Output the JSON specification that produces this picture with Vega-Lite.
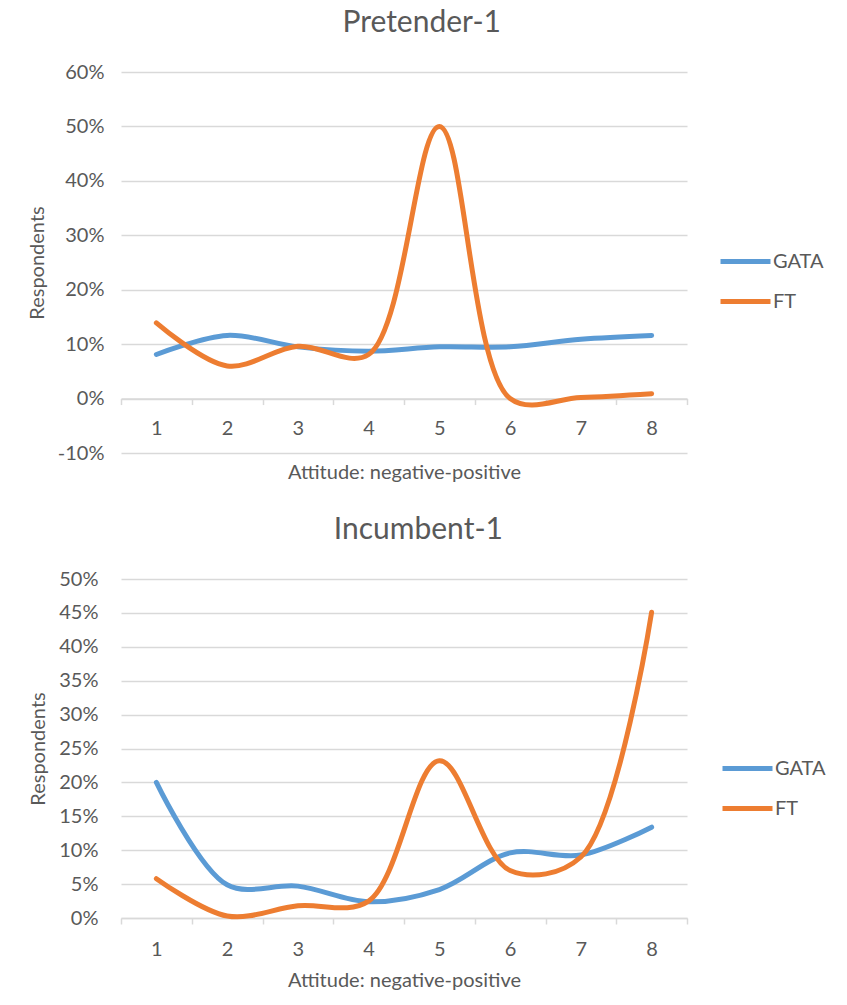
{
  "$schema": "https://vega.github.io/schema/vega-lite/v6.json",
  "background": "white",
  "padding": {"left": 27, "top": 8, "right": 0, "bottom": 0},
  "spacing": 32,
  "columns": 1,
  "resolve": {"legend": {"color": "independent"}},
  "config": {
    "font": "Lato",
    "view": {"stroke": null},
    "legend": {"padding": 0}
  },
  "datasets": {
    "pretender": [
      {"attitude": 1, "series": "GATA", "value": 0.081},
      {"attitude": 2, "series": "GATA", "value": 0.116},
      {"attitude": 3, "series": "GATA", "value": 0.095},
      {"attitude": 4, "series": "GATA", "value": 0.087},
      {"attitude": 5, "series": "GATA", "value": 0.095},
      {"attitude": 6, "series": "GATA", "value": 0.095},
      {"attitude": 7, "series": "GATA", "value": 0.109},
      {"attitude": 8, "series": "GATA", "value": 0.116},
      {"attitude": 1, "series": "FT", "value": 0.139},
      {"attitude": 2, "series": "FT", "value": 0.060},
      {"attitude": 3, "series": "FT", "value": 0.096},
      {"attitude": 4, "series": "FT", "value": 0.081},
      {"attitude": 5, "series": "FT", "value": 0.500},
      {"attitude": 6, "series": "FT", "value": 0.000},
      {"attitude": 7, "series": "FT", "value": 0.002},
      {"attitude": 8, "series": "FT", "value": 0.009}
    ],
    "incumbent": [
      {"attitude": 1, "series": "GATA", "value": 0.200},
      {"attitude": 2, "series": "GATA", "value": 0.049},
      {"attitude": 3, "series": "GATA", "value": 0.047},
      {"attitude": 4, "series": "GATA", "value": 0.024},
      {"attitude": 5, "series": "GATA", "value": 0.042},
      {"attitude": 6, "series": "GATA", "value": 0.096},
      {"attitude": 7, "series": "GATA", "value": 0.093},
      {"attitude": 8, "series": "GATA", "value": 0.134},
      {"attitude": 1, "series": "FT", "value": 0.058},
      {"attitude": 2, "series": "FT", "value": 0.003},
      {"attitude": 3, "series": "FT", "value": 0.018},
      {"attitude": 4, "series": "FT", "value": 0.025},
      {"attitude": 5, "series": "FT", "value": 0.232},
      {"attitude": 6, "series": "FT", "value": 0.070},
      {"attitude": 7, "series": "FT", "value": 0.090},
      {"attitude": 8, "series": "FT", "value": 0.451}
    ]
  },
  "concat": [
    {
      "title": {"text": "Pretender-1", "fontSize": 30, "fontWeight": "normal", "color": "#595959", "frame": "bounds", "anchor": "middle", "offset": 24, "dx": -4},
      "data": {"name": "pretender"},
      "width": 566,
      "height": 381,
      "mark": {"type": "line", "interpolate": "catmull-rom", "strokeWidth": 5, "strokeCap": "round"},
      "encoding": {
        "x": {
          "field": "attitude", "type": "ordinal", "bandPosition": 0.5,
          "scale": {"type": "band", "paddingInner": 0, "paddingOuter": 0},
          "axis": {"title": "Attitude: negative-positive", "labelAngle": 0, "offset": -54.43, "domainColor": "#D9D9D9", "domainWidth": 1.5, "tickColor": "#D9D9D9", "tickWidth": 1.5, "tickSize": 6, "tickBand": "extent", "labelPadding": 14, "labelFontSize": 20, "labelColor": "#595959", "titleFontSize": 20, "titleFontWeight": "normal", "titleColor": "#595959", "titlePadding": 24, "grid": false}
        },
        "y": {
          "field": "value", "type": "quantitative",
          "scale": {"domain": [-0.1, 0.6], "nice": false, "zero": false},
          "axis": {"title": "Respondents", "format": ".0%", "labelExpr": "replace(datum.label, '−', '-')", "values": [-0.1, 0, 0.1, 0.2, 0.3, 0.4, 0.5, 0.6], "domain": false, "ticks": false, "tickSize": 0, "labelPadding": 17, "gridColor": "#D9D9D9", "gridWidth": 1.5, "labelFontSize": 20, "labelColor": "#595959", "titleFontSize": 20, "titleFontWeight": "normal", "titleColor": "#595959", "titlePadding": 10}
        },
        "color": {
          "field": "series", "type": "nominal",
          "scale": {"domain": ["GATA", "FT"], "range": ["#5B9BD5", "#ED7D31"]},
          "legend": {"title": null, "orient": "none", "legendX": 597, "legendY": 162, "symbolType": "stroke", "symbolSize": 2500, "symbolStrokeWidth": 5, "labelFontSize": 20, "labelColor": "#595959", "labelOffset": 0, "rowPadding": 2}
        }
      }
    },
    {
      "title": {"text": "Incumbent-1", "fontSize": 30, "fontWeight": "normal", "color": "#595959", "frame": "bounds", "anchor": "middle", "offset": 24, "dx": -9},
      "data": {"name": "incumbent"},
      "width": 566,
      "height": 339,
      "mark": {"type": "line", "interpolate": "catmull-rom", "strokeWidth": 5, "strokeCap": "round"},
      "encoding": {
        "x": {
          "field": "attitude", "type": "ordinal", "bandPosition": 0.5,
          "scale": {"type": "band", "paddingInner": 0, "paddingOuter": 0},
          "axis": {"title": "Attitude: negative-positive", "labelAngle": 0, "domainColor": "#D9D9D9", "domainWidth": 1.5, "tickColor": "#D9D9D9", "tickWidth": 1.5, "tickSize": 6, "tickBand": "extent", "labelPadding": 15, "labelFontSize": 20, "labelColor": "#595959", "titleFontSize": 20, "titleFontWeight": "normal", "titleColor": "#595959", "titlePadding": 11, "grid": false}
        },
        "y": {
          "field": "value", "type": "quantitative",
          "scale": {"domain": [0, 0.5], "nice": false, "zero": false},
          "axis": {"title": "Respondents", "format": ".0%", "values": [0, 0.05, 0.1, 0.15, 0.2, 0.25, 0.3, 0.35, 0.4, 0.45, 0.5], "domain": false, "ticks": false, "tickSize": 0, "labelPadding": 23, "gridColor": "#D9D9D9", "gridWidth": 1.5, "labelFontSize": 20, "labelColor": "#595959", "titleFontSize": 20, "titleFontWeight": "normal", "titleColor": "#595959", "titlePadding": 10}
        },
        "color": {
          "field": "series", "type": "nominal",
          "scale": {"domain": ["GATA", "FT"], "range": ["#5B9BD5", "#ED7D31"]},
          "legend": {"title": null, "orient": "none", "legendX": 599, "legendY": 162, "symbolType": "stroke", "symbolSize": 2500, "symbolStrokeWidth": 5, "labelFontSize": 20, "labelColor": "#595959", "labelOffset": 0, "rowPadding": 2}
        }
      }
    }
  ]
}
